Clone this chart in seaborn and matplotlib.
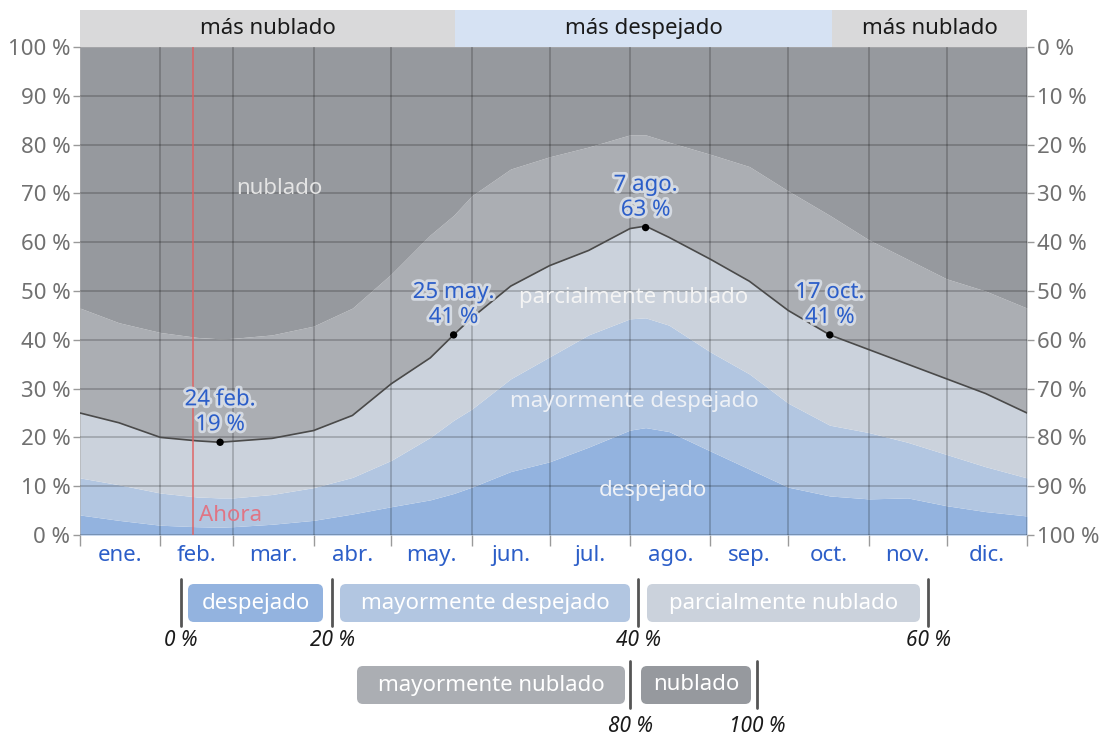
import matplotlib.pyplot as plt
import matplotlib.patheffects as pe
import numpy as np
import pandas as pd
import seaborn as sns
from matplotlib.patches import FancyBboxPatch

# day of year (0 = 1 ene.) and cumulative % of time, bottom to top
days = [0, 15, 31, 45, 54, 59, 74, 90, 105, 120, 135, 144, 151, 166,
        181, 196, 212, 218, 227, 243, 258, 273, 289, 304, 319, 334, 349, 365]
despejado = [4.1, 3.0, 2.0, 1.7, 1.6, 1.7, 2.2, 3.0, 4.3, 5.8, 7.2, 8.5, 9.8, 13.0,
             15.0, 18.0, 21.5, 22.0, 21.2, 17.2, 13.5, 9.8, 8.0, 7.4, 7.6, 6.0, 4.8, 3.9]
mayormente_despejado = [11.7, 10.3, 8.6, 7.8, 7.6, 7.6, 8.3, 9.7, 11.8, 15.3, 20.0, 23.5, 25.8, 32.0,
                        36.5, 41.0, 44.3, 44.5, 43.0, 37.5, 33.0, 27.0, 22.5, 21.0, 19.0, 16.5, 14.0, 11.7]
parcialmente_nublado = [25.0, 23.0, 20.0, 19.3, 19.0, 19.2, 19.8, 21.4, 24.5, 31.0, 36.3, 41.0, 44.5, 51.0,
                        55.2, 58.3, 62.8, 63.3, 61.0, 56.5, 52.0, 46.0, 41.0, 38.0, 35.0, 32.0, 29.0, 25.0]
mayormente_nublado = [46.5, 43.5, 41.5, 40.5, 40.2, 40.3, 41.0, 42.8, 46.5, 53.5, 61.5, 65.5, 69.5, 75.0,
                      77.5, 79.5, 82.0, 82.0, 80.5, 78.0, 75.5, 70.5, 65.5, 60.5, 56.5, 52.5, 50.0, 46.5]

month_starts = [0, 31, 59, 90, 120, 151, 181, 212, 243, 273, 304, 334, 365]
month_labels = ["ene.", "feb.", "mar.", "abr.", "may.", "jun.",
                "jul.", "ago.", "sep.", "oct.", "nov.", "dic."]

highlight_days = [54, 144, 218, 289]
highlight_values = [19, 41, 63, 41]
highlight_labels = ["24 feb.", "25 may.", "7 ago.", "17 oct."]

season_bounds = [0, 144.5, 290, 365]
season_labels = ["más nublado", "más despejado", "más nublado"]

now_day = 43.5

categories = ["despejado", "mayormente despejado", "parcialmente nublado",
              "mayormente nublado", "nublado"]
colors = ["#93b3df", "#b2c6e1", "#cbd2dc", "#abaeb3", "#96999e"]

sns.set_theme(style="white")
plt.rcParams["font.family"] = ["Noto Sans", "DejaVu Sans"]

BLUE = "#2c5ec8"
GREY = "#707070"

fig = plt.figure(figsize=(11.04, 7.40), dpi=100)
W, H = 1104, 740
ax = fig.add_axes([80 / W, 205 / H, 947 / W, 488 / H])

layers = [np.zeros(len(days)), despejado, mayormente_despejado,
          parcialmente_nublado, mayormente_nublado, np.full(len(days), 100.0)]
for lo, hi, c in zip(layers[:-1], layers[1:], colors):
    ax.fill_between(days, lo, hi, color=c, lw=0, zorder=1)

df = pd.DataFrame({"day": days, "pct": parcialmente_nublado})
sns.lineplot(data=df, x="day", y="pct", color="#4a4a4a", lw=1.2, ax=ax, zorder=3)
sns.scatterplot(x=highlight_days, y=highlight_values, color="black", s=28,
                edgecolor="none", ax=ax, zorder=6)

halo = [pe.withStroke(linewidth=4, foreground="#dde2ea", alpha=0.85)]
for d, v, lab in zip(highlight_days, highlight_values, highlight_labels):
    ax.annotate(f"{lab}\n{v} %", (d, v), xytext=(0, 5), textcoords="offset points",
                ha="center", va="bottom", fontsize=16, color=BLUE,
                linespacing=1.25, path_effects=halo, zorder=7)

# labels inside the bands
ax.text(77, 71, "nublado", ha="center", va="center", fontsize=16, color="#e4e4e4", zorder=5)
ax.text(213.5, 48.6, "parcialmente nublado", ha="center", va="center", fontsize=16,
        color="#f4f4f4", zorder=5)
ax.text(213.5, 27.3, "mayormente despejado", ha="center", va="center", fontsize=16,
        color="#eef1f6", zorder=5)
ax.text(221, 9.2, "despejado", ha="center", va="center", fontsize=16,
        color="#eef1f6", zorder=5)

# now
ax.axvline(now_day, color="#e06060", lw=1.3, alpha=0.8, zorder=4)
ax.text(now_day + 2.3, 4, "Ahora", ha="left", va="center", fontsize=16,
        color="#e07585", zorder=5)

ax.set_xlim(0, 365)
ax.set_ylim(0, 100)
mid = [(a + b) / 2 for a, b in zip(month_starts[:-1], month_starts[1:])]
ax.set_xticks(mid)
ax.set_xticklabels(month_labels, fontsize=16, color=BLUE)
ax.set_xticks(month_starts, minor=True)
ax.tick_params(axis="x", which="major", length=0, pad=7)
ax.tick_params(axis="x", which="minor", length=8, width=1, color="#9a9a9a", bottom=True)
ax.set_yticks(range(0, 101, 10))
ax.set_yticklabels([f"{v} %" for v in range(0, 101, 10)], fontsize=16, color=GREY)
ax.tick_params(axis="y", length=5, width=1, color="#9a9a9a", pad=2, left=True)
ax.set_axisbelow(False)
ax.grid(axis="y", which="major", color="black", alpha=0.22, lw=1.2)
ax.grid(axis="x", which="minor", color="black", alpha=0.22, lw=1.2)
ax.grid(axis="x", which="major", visible=False)
ax.set_xlabel("")
ax.set_ylabel("")
for s in ax.spines.values():
    s.set_visible(False)

ax2 = ax.twinx()
ax2.set_ylim(100, 0)
ax2.set_yticks(range(0, 101, 10))
ax2.set_yticklabels([f"{v} %" for v in range(0, 101, 10)], fontsize=16, color=GREY)
ax2.tick_params(axis="y", length=5, width=1, color="#9a9a9a", pad=2, right=True)
for s in ax2.spines.values():
    s.set_visible(False)

# season band above the plot
axt = fig.add_axes([80 / W, 693 / H, 947 / W, 37 / H])
axt.set_xlim(0, 365)
axt.set_ylim(0, 1)
for a, b, lab in zip(season_bounds[:-1], season_bounds[1:], season_labels):
    axt.axvspan(a, b, color="#d6e2f3" if "despejado" in lab else "#d9d9da", lw=0)
    axt.text((a + b) / 2, 0.5, lab, ha="center", va="center", fontsize=16, color="#1a1a1a")
axt.axis("off")

# legend drawn in pixel space
axl = fig.add_axes([0, 0, 1, 1], zorder=-1)
axl.set_xlim(0, W)
axl.set_ylim(H, 0)
axl.axis("off")

rows = [
    {"boxes": [(188, 323), (340, 630), (647, 920)], "idx": [0, 1, 2],
     "top": 584, "ticks": [181, 332, 638, 928], "tlab": ["0 %", "20 %", "40 %", "60 %"],
     "ty": 641},
    {"boxes": [(357, 625), (641, 751)], "idx": [3, 4],
     "top": 666, "ticks": [630, 757], "tlab": ["80 %", "100 %"], "ty": 727},
]
for row in rows:
    top = row["top"]
    for (x0, x1), i in zip(row["boxes"], row["idx"]):
        axl.add_patch(FancyBboxPatch((x0, top), x1 - x0, 38,
                                     boxstyle="round,pad=0,rounding_size=6",
                                     fc=colors[i], ec="none"))
        axl.text((x0 + x1) / 2, top + 19, categories[i], ha="center", va="center",
                 fontsize=16, color="white")
    for x, lab in zip(row["ticks"], row["tlab"]):
        axl.plot([x, x], [top - 5, top + 42], color="#555555", lw=2)
        axl.text(x, row["ty"], lab, ha="center", va="center", fontsize=15,
                 style="italic", color="#1a1a1a")

fig.savefig("out.png", dpi=100)
